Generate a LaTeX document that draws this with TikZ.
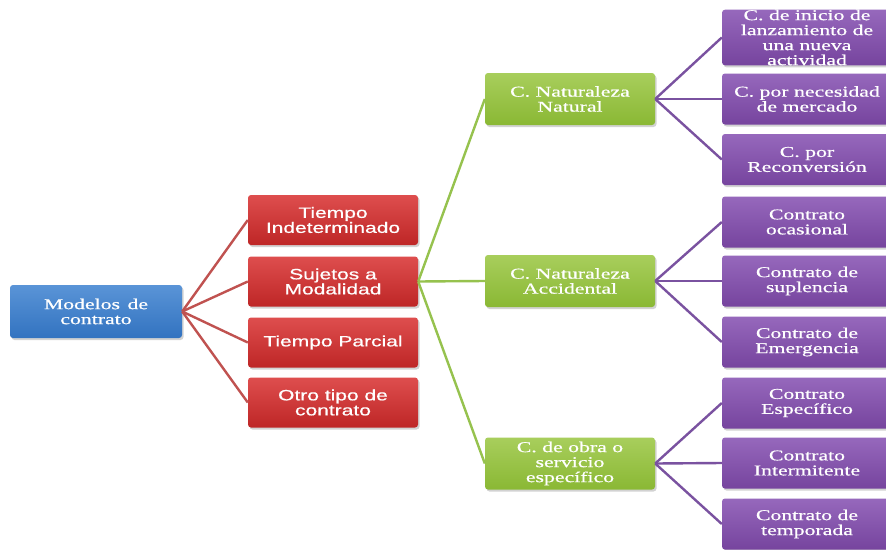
\documentclass[tikz,border=0pt]{standalone}
\usepackage{fontspec}
\setmainfont{Liberation Serif}
\newfontfamily\boxserif[FakeStretch=1.45,FakeBold=0.6]{Liberation Serif}
\newfontfamily\boxsans[FakeStretch=1.4,FakeBold=0.6]{Liberation Sans}
\usetikzlibrary{shadows}
\definecolor{cblue}{RGB}{50,115,192}
\definecolor{cbluet}{RGB}{90,148,215}
\definecolor{cred}{RGB}{190,38,38}
\definecolor{credt}{RGB}{222,78,78}
\definecolor{cgreen}{RGB}{138,184,52}
\definecolor{cgreent}{RGB}{168,206,92}
\definecolor{cpurple}{RGB}{118,68,158}
\definecolor{cpurplet}{RGB}{150,104,188}
\definecolor{lred}{RGB}{192,82,80}
\definecolor{lgreen}{RGB}{150,194,78}
\definecolor{lpurple}{RGB}{122,82,160}
\tikzset{
  basebox/.style={rounded corners=3pt, minimum height=51pt, inner sep=0pt, align=center,
    text=white, font=\boxserif\fontsize{15}{15}\selectfont,
    drop shadow={opacity=0.35, shadow xshift=1.5pt, shadow yshift=-2pt}},
  rootbox/.style={basebox, minimum width=172pt, minimum height=53pt, top color=cbluet, bottom color=cblue},
  redbox/.style={basebox, minimum width=170pt, minimum height=50pt, top color=credt, bottom color=cred,
    font=\boxsans\fontsize{15}{15}\selectfont},
  greenbox/.style={basebox, minimum width=170pt, minimum height=52pt, top color=cgreent, bottom color=cgreen},
  purplebox/.style={basebox, minimum width=170pt, minimum height=51pt, top color=cpurplet, bottom color=cpurple},
  redline/.style={draw=lred, line width=2.4pt},
  greenline/.style={draw=lgreen, line width=2.4pt},
  purpleline/.style={draw=lpurple, line width=2.4pt}
}
\begin{document}
\begin{tikzpicture}[x=1pt,y=-1pt]
\fill[white] (0,0) rectangle (886,549);
\useasboundingbox (0,0) rectangle (886,549);

% nodes
\node[rootbox] (root) at (96,311.5) {Modelos\enspace de\\contrato};

\node[redbox] (r1) at (333,220) {Tiempo\\Indeterminado};
\node[redbox] (r2) at (333,281.5) {Sujetos a\\Modalidad};
\node[redbox] (r3) at (333,342.5) {Tiempo Parcial};
\node[redbox] (r4) at (333,402.5) {Otro tipo de\\contrato};

\node[greenbox] (g1) at (570,99) {C. Naturaleza\\Natural};
\node[greenbox] (g2) at (570,281) {C. Naturaleza\\Accidental};
\node[greenbox] (g3) at (570,463.5) {C. de obra o\\servicio\\específico};

\node[purplebox] (p1) at (807,37.5) {C. de inicio de\\lanzamiento de\\una nueva\\actividad};
\node[purplebox] (p2) at (807,99) {C. por necesidad\\de mercado};
\node[purplebox] (p3) at (807,159.5) {C. por\\Reconversión};
\node[purplebox] (p4) at (807,222) {Contrato\\ocasional};
\node[purplebox] (p5) at (807,281) {Contrato de\\suplencia};
\node[purplebox] (p6) at (807,342) {Contrato de\\Emergencia};
\node[purplebox] (p7) at (807,403) {Contrato\\Específico};
\node[purplebox] (p8) at (807,463) {Contrato\\Intermitente};
\node[purplebox] (p9) at (807,524) {Contrato de\\temporada};

% connectors
\foreach \t in {r1,r2,r3,r4} \draw[redline] (root.east) -- (\t.west);
\foreach \t in {g1,g2,g3} \draw[greenline] (r2.east) -- (\t.west);
\foreach \t in {p1,p2,p3} \draw[purpleline] (g1.east) -- (\t.west);
\foreach \t in {p4,p5,p6} \draw[purpleline] (g2.east) -- (\t.west);
\foreach \t in {p7,p8,p9} \draw[purpleline] (g3.east) -- (\t.west);
\end{tikzpicture}
\end{document}
